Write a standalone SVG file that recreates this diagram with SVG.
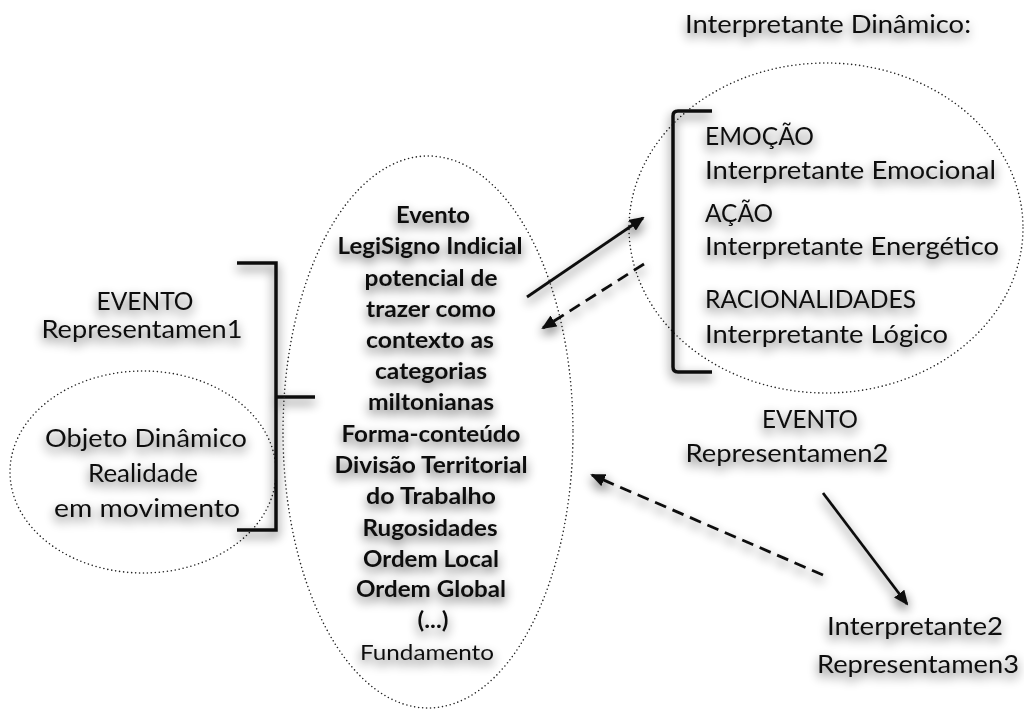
<svg xmlns="http://www.w3.org/2000/svg" width="1024" height="713" viewBox="0 0 1024 713">
<defs>
<style>
text{font-family:Lato,"Open Sans","Liberation Sans",sans-serif;fill:#111;}
.r{font-size:25px;}
.b{font-size:22px;font-weight:bold;}
.f{font-size:22px;}
.c{text-anchor:middle;}
.dot{fill:none;stroke:#222;stroke-width:1.6;stroke-dasharray:0 4;stroke-linecap:round;}
.br{fill:none;stroke:#111;stroke-width:3.5;}
.sol{fill:none;stroke:#111;stroke-width:2.8;}
.das{fill:none;stroke:#111;stroke-width:2.8;stroke-dasharray:12 7;}
</style>
<filter id="sh" x="-20%" y="-40%" width="140%" height="190%">
<feGaussianBlur in="SourceAlpha" stdDeviation="5.5"/>
<feOffset dx="0" dy="5" result="b"/>
<feComponentTransfer><feFuncA type="linear" slope="0.65"/></feComponentTransfer>
<feMerge><feMergeNode/><feMergeNode in="SourceGraphic"/></feMerge>
</filter>
<marker id="ah" markerUnits="userSpaceOnUse" markerWidth="15" markerHeight="13" refX="13" refY="6.5" orient="auto">
<path d="M0,0 L15,6.5 L0,13 z" fill="#111"/>
</marker>
</defs>
<rect width="1024" height="713" fill="#fff"/>

<g id="node-objeto-dinamico">
<ellipse class="dot" cx="143" cy="472" rx="133" ry="101"/>
<g filter="url(#sh)">
<text class="r c" x="146" y="447" textLength="202" lengthAdjust="spacingAndGlyphs">Objeto Dinâmico</text>
<text class="r c" x="143" y="482" textLength="110" lengthAdjust="spacingAndGlyphs">Realidade</text>
<text class="r c" x="147" y="517" textLength="186" lengthAdjust="spacingAndGlyphs">em movimento</text>
</g>
</g>

<g id="node-representamen1" filter="url(#sh)">
<text class="r c" x="145" y="310" textLength="97" lengthAdjust="spacingAndGlyphs">EVENTO</text>
<text class="r c" x="142" y="338" textLength="201" lengthAdjust="spacingAndGlyphs">Representamen1</text>
<path class="br" d="M237,263 L276,263 L276,530 L237,530 M276,397 L315,397"/>
</g>

<g id="node-fundamento">
<ellipse class="dot" cx="428" cy="432" rx="145" ry="276"/>
<g filter="url(#sh)">
<text class="b c" x="433" y="223" textLength="74" lengthAdjust="spacingAndGlyphs">Evento</text>
<text class="b c" x="430" y="254" textLength="185" lengthAdjust="spacingAndGlyphs">LegiSigno Indicial</text>
<text class="b c" x="431" y="286" textLength="133" lengthAdjust="spacingAndGlyphs">potencial de</text>
<text class="b c" x="431" y="317" textLength="130" lengthAdjust="spacingAndGlyphs">trazer como</text>
<text class="b c" x="430" y="348" textLength="128" lengthAdjust="spacingAndGlyphs">contexto as</text>
<text class="b c" x="431" y="379" textLength="112" lengthAdjust="spacingAndGlyphs">categorias</text>
<text class="b c" x="431" y="410" textLength="126" lengthAdjust="spacingAndGlyphs">miltonianas</text>
<text class="b c" x="431" y="442" textLength="179" lengthAdjust="spacingAndGlyphs">Forma-conteúdo</text>
<text class="b c" x="431" y="473" textLength="193" lengthAdjust="spacingAndGlyphs">Divisão Territorial</text>
<text class="b c" x="431" y="504" textLength="130" lengthAdjust="spacingAndGlyphs">do Trabalho</text>
<text class="b c" x="430" y="536" textLength="135" lengthAdjust="spacingAndGlyphs">Rugosidades</text>
<text class="b c" x="431" y="567" textLength="136" lengthAdjust="spacingAndGlyphs">Ordem Local</text>
<text class="b c" x="431" y="597" textLength="150" lengthAdjust="spacingAndGlyphs">Ordem Global</text>
<text class="b c" x="433" y="628" textLength="31" lengthAdjust="spacingAndGlyphs">(...)</text>
<text class="f c" x="427" y="660" textLength="134" lengthAdjust="spacingAndGlyphs">Fundamento</text>
</g>
</g>

<g id="node-interpretante-dinamico">
<ellipse class="dot" cx="826" cy="228" rx="197" ry="165"/>
<g filter="url(#sh)">
<path class="br" d="M712,111 L678,111 Q673,111 673,116 L673,367 Q673,372 678,372 L712,372"/>
<text class="r" x="705" y="145" textLength="109" lengthAdjust="spacingAndGlyphs">EMOÇÃO</text>
<text class="r" x="705" y="179" textLength="291" lengthAdjust="spacingAndGlyphs">Interpretante Emocional</text>
<text class="r" x="705" y="222" textLength="68" lengthAdjust="spacingAndGlyphs">AÇÃO</text>
<text class="r" x="705" y="255" textLength="294" lengthAdjust="spacingAndGlyphs">Interpretante Energético</text>
<text class="r" x="705" y="308" textLength="211" lengthAdjust="spacingAndGlyphs">RACIONALIDADES</text>
<text class="r" x="705" y="343" textLength="243" lengthAdjust="spacingAndGlyphs">Interpretante Lógico</text>
</g>
</g>

<g id="label-interpretante-dinamico" filter="url(#sh)">
<text class="r" x="685" y="33" textLength="286" lengthAdjust="spacingAndGlyphs">Interpretante Dinâmico:</text>
</g>

<g id="node-representamen2" filter="url(#sh)">
<text class="r c" x="810" y="428" textLength="96" lengthAdjust="spacingAndGlyphs">EVENTO</text>
<text class="r c" x="787" y="462" textLength="203" lengthAdjust="spacingAndGlyphs">Representamen2</text>
</g>

<g id="node-interpretante2" filter="url(#sh)">
<text class="r c" x="915" y="635" textLength="176" lengthAdjust="spacingAndGlyphs">Interpretante2</text>
<text class="r c" x="918" y="673" textLength="202" lengthAdjust="spacingAndGlyphs">Representamen3</text>
</g>

<g id="connectors" filter="url(#sh)">
<line class="sol" x1="527" y1="297" x2="643" y2="218" marker-end="url(#ah)"/>
<line class="das" x1="644" y1="264" x2="543" y2="328" marker-end="url(#ah)"/>
<line class="sol" x1="823" y1="493" x2="907" y2="604" marker-end="url(#ah)"/>
<line class="das" x1="823" y1="575" x2="592" y2="475" marker-end="url(#ah)"/>
</g>
</svg>
